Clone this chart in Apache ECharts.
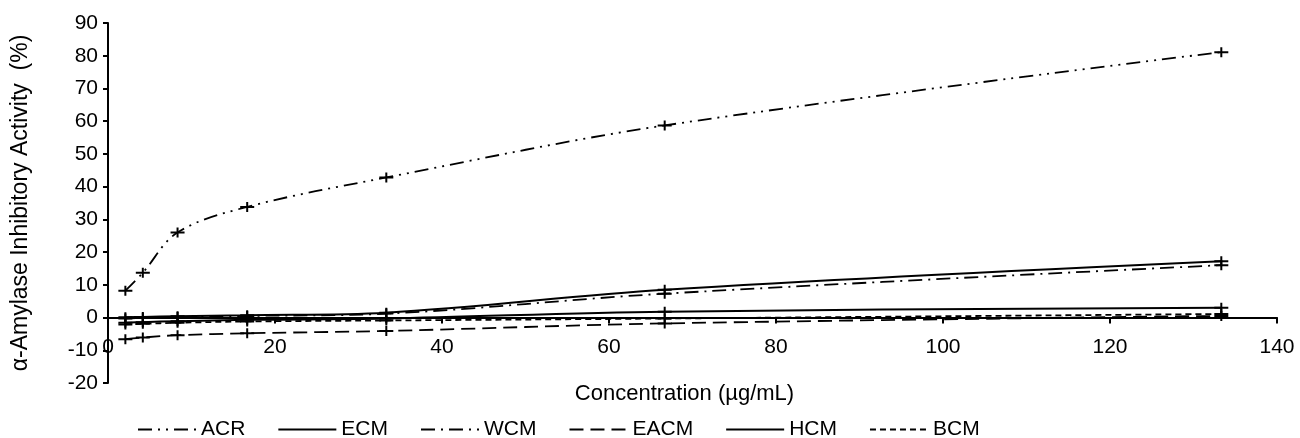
<!DOCTYPE html>
<html>
<head>
<meta charset="utf-8">
<script src="https://cdn.jsdelivr.net/npm/echarts@6/dist/echarts.min.js"></script>
<style>
html,body{margin:0;padding:0;background:#fff;}
#chart{width:1300px;height:438px;}
</style>
</head>
<body>
<div id="chart"></div>
<script>
// Data
const concentrations = [2.08, 4.17, 8.33, 16.67, 33.33, 66.67, 133.33];
const seriesNames = ['ACR', 'ECM', 'WCM', 'EACM', 'HCM', 'BCM'];
const ACR  = [8.2, 13.7, 26.0, 33.8, 42.8, 58.7, 81.1];
const ECM  = [0.1, 0.2, 0.4, 0.7, 1.5, 8.5, 17.2];
const WCM  = [-0.3, -0.1, 0.2, 0.5, 1.2, 7.3, 16.0];
const EACM = [-6.6, -6.1, -5.4, -4.8, -4.1, -1.8, 0.5];
const HCM  = [-1.6, -1.4, -1.1, -0.7, -0.3, 1.8, 3.0];
const BCM  = [-2.1, -1.9, -1.6, -1.2, -0.9, -0.3, 1.1];
const xTicks = [0, 20, 40, 60, 80, 100, 120, 140];
const yTicks = [-20, -10, 0, 10, 20, 30, 40, 50, 60, 70, 80, 90];

const valuesByName = {ACR, ECM, WCM, EACM, HCM, BCM};
const dashByName = {
  ACR: [14, 6, 2, 6, 2, 6],
  ECM: 'solid',
  WCM: [14, 6, 2, 6],
  EACM: [14, 7],
  HCM: 'solid',
  BCM: [6, 4]
};
const FONT = 'Liberation Sans, Arial, sans-serif';
const plus = 'path://M0,4L14,4L14,6L0,6Z M6,0L8,0L8,10L6,10Z';

const chart = echarts.init(document.getElementById('chart'), null, {renderer: 'canvas'});
const series = seriesNames.map(name => ({
  name: name,
  type: 'line',
  smooth: 0.35,
  data: concentrations.map((c, i) => [c, valuesByName[name][i]]),
  symbol: plus,
  symbolSize: [14, 10],
  showSymbol: true,
  itemStyle: {color: '#000'},
  lineStyle: {color: '#000', width: dashByName[name] === 'solid' ? 2 : 1.8, type: dashByName[name]},
  emphasis: {disabled: true},
  animation: false
}));

chart.setOption({
  animation: false,
  backgroundColor: '#fff',
  textStyle: {fontFamily: FONT, color: '#000'},
  grid: {left: 108, right: 23, top: 23, bottom: 55, containLabel: false, outerBoundsMode: 'none'},
  legend: {
    data: seriesNames,
    top: 414,
    left: 132,
    itemWidth: 58,
    itemHeight: 14,
    itemGap: 32,
    textStyle: {fontFamily: FONT, fontSize: 21, color: '#000'},
    itemStyle: {opacity: 0},
    inactiveColor: '#000'
  },
  xAxis: {
    type: 'value',
    min: xTicks[0],
    max: xTicks[xTicks.length - 1],
    interval: 20,
    name: 'Concentration (µg/mL)',
    nameLocation: 'middle',
    nameGap: 0,
    nameMoveOverlap: false,
    nameTextStyle: {fontFamily: FONT, fontSize: 22, color: '#000', verticalAlign: 'top', padding: [0, 16, 0, 0]},
    axisLine: {onZero: true, lineStyle: {color: '#000', width: 2}},
    axisTick: {show: true, inside: false, length: 6, lineStyle: {color: '#000', width: 2}},
    axisLabel: {margin: -46, fontFamily: FONT, fontSize: 21, color: '#000', hideOverlap: false},
    splitLine: {show: false}
  },
  yAxis: {
    type: 'value',
    min: yTicks[0],
    max: yTicks[yTicks.length - 1],
    interval: 10,
    name: 'α-Amylase Inhibitory Activity  (%)',
    nameLocation: 'middle',
    nameGap: 76,
    nameMoveOverlap: false,
    nameTextStyle: {fontFamily: FONT, fontSize: 23, color: '#000'},
    axisLine: {show: true, onZero: false, lineStyle: {color: '#000', width: 2}},
    axisTick: {show: true, inside: false, length: 5, lineStyle: {color: '#000', width: 2}},
    axisLabel: {margin: 10, fontFamily: FONT, fontSize: 21, color: '#000'},
    splitLine: {show: false}
  },
  series: series
});
</script>
</body>
</html>
